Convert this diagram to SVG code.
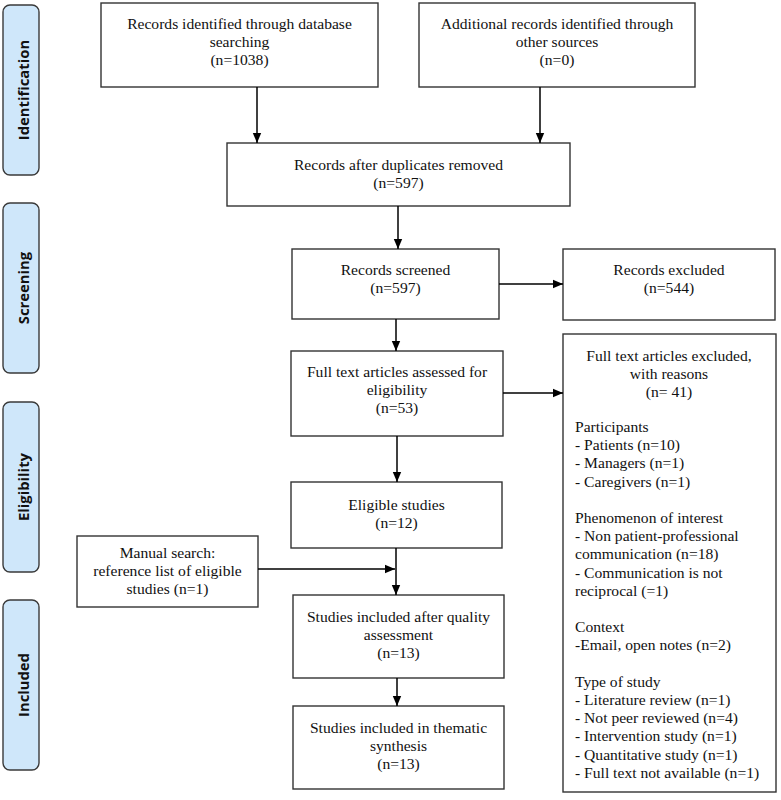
<svg xmlns="http://www.w3.org/2000/svg" width="781" height="800" viewBox="0 0 781 800">
<defs>
<marker id="ah" markerUnits="userSpaceOnUse" markerWidth="10" markerHeight="10" viewBox="0 0 10 10" refX="10" refY="5" orient="auto">
<path d="M0,0.8 L10,5 L0,9.2 Z" fill="#000"/>
</marker>
<style>
.box{fill:#fff;stroke:#333;stroke-width:1.4}
.phase{fill:#cfe7fa;stroke:#3a3a3a;stroke-width:1.4}
.pt{font-family:"Open Sans","Noto Sans","DejaVu Sans",sans-serif;font-weight:bold;font-size:14.8px;fill:#111;text-anchor:middle}
.t{font-family:"Liberation Serif","Times New Roman",serif;font-size:15.6px;fill:#111;text-anchor:middle}
.tl{font-family:"Liberation Serif","Times New Roman",serif;font-size:15.6px;fill:#111}
.c{stroke:#000;stroke-width:1.5;fill:none;marker-end:url(#ah)}
</style>
</defs>
<rect width="781" height="800" fill="#fff"/>

<g id="phase-identification">
<rect class="phase" x="3" y="5" width="36" height="170" rx="7"/>
<text class="pt" transform="translate(24,90) rotate(-90)" dy="5.3">Identification</text>
</g>
<g id="phase-screening">
<rect class="phase" x="3" y="203" width="36" height="170" rx="7"/>
<text class="pt" transform="translate(24,288) rotate(-90)" dy="5.3">Screening</text>
</g>
<g id="phase-eligibility">
<rect class="phase" x="3" y="402" width="36" height="170" rx="7"/>
<text class="pt" transform="translate(24,487) rotate(-90)" dy="5.3">Eligibility</text>
</g>
<g id="phase-included">
<rect class="phase" x="3" y="600" width="36" height="170" rx="7"/>
<text class="pt" transform="translate(24,685) rotate(-90)" dy="5.3">Included</text>
</g>

<g id="n-database">
<rect class="box" x="101" y="3" width="277" height="84"/>
<text class="t" x="239.5" y="29">Records identified through database</text>
<text class="t" x="239.5" y="47">searching</text>
<text class="t" x="239.5" y="65">(n=1038)</text>
</g>
<g id="n-other">
<rect class="box" x="419" y="3" width="276" height="84"/>
<text class="t" x="557" y="29">Additional records identified through</text>
<text class="t" x="557" y="47">other sources</text>
<text class="t" x="557" y="65">(n=0)</text>
</g>
<g id="n-dedup">
<rect class="box" x="227" y="143" width="343" height="63"/>
<text class="t" x="398.5" y="170">Records after duplicates removed</text>
<text class="t" x="398.5" y="188">(n=597)</text>
</g>
<g id="n-screened">
<rect class="box" x="292" y="249" width="207" height="70"/>
<text class="t" x="395.5" y="275">Records screened</text>
<text class="t" x="395.5" y="293">(n=597)</text>
</g>
<g id="n-excluded">
<rect class="box" x="563" y="249" width="212" height="71"/>
<text class="t" x="669" y="275">Records excluded</text>
<text class="t" x="669" y="293">(n=544)</text>
</g>
<g id="n-fulltext">
<rect class="box" x="291" y="351" width="212" height="85"/>
<text class="t" x="397" y="377">Full text articles assessed for</text>
<text class="t" x="397" y="395">eligibility</text>
<text class="t" x="397" y="413">(n=53)</text>
</g>
<g id="n-ftexcluded">
<rect class="box" x="563" y="334" width="213" height="458"/>
<text class="t" x="669" y="361">Full text articles excluded,</text>
<text class="t" x="669" y="379">with reasons</text>
<text class="t" x="669" y="397">(n= 41)</text>
<text class="tl" x="575" y="432">Participants</text>
<text class="tl" x="575" y="450.2">- Patients (n=10)</text>
<text class="tl" x="575" y="468.4">- Managers (n=1)</text>
<text class="tl" x="575" y="486.6">- Caregivers (n=1)</text>
<text class="tl" x="575" y="523">Phenomenon of interest</text>
<text class="tl" x="575" y="541.2">- Non patient-professional</text>
<text class="tl" x="575" y="559.4">communication (n=18)</text>
<text class="tl" x="575" y="577.6">- Communication is not</text>
<text class="tl" x="575" y="595.8">reciprocal (=1)</text>
<text class="tl" x="575" y="632.2">Context</text>
<text class="tl" x="575" y="650.4">-Email, open notes (n=2)</text>
<text class="tl" x="575" y="686.8">Type of study</text>
<text class="tl" x="575" y="705">- Literature review (n=1)</text>
<text class="tl" x="575" y="723.2">- Not peer reviewed (n=4)</text>
<text class="tl" x="575" y="741.4">- Intervention study (n=1)</text>
<text class="tl" x="575" y="759.6">- Quantitative study (n=1)</text>
<text class="tl" x="575" y="777.8">- Full text not available (n=1)</text>
</g>
<g id="n-eligible">
<rect class="box" x="291" y="482" width="211" height="66"/>
<text class="t" x="396.5" y="510">Eligible studies</text>
<text class="t" x="396.5" y="528">(n=12)</text>
</g>
<g id="n-manual">
<rect class="box" x="77" y="536" width="181" height="71"/>
<text class="t" x="167.5" y="558">Manual search:</text>
<text class="t" x="167.5" y="576">reference list of eligible</text>
<text class="t" x="167.5" y="594">studies (n=1)</text>
</g>
<g id="n-quality">
<rect class="box" x="293" y="595" width="211" height="83"/>
<text class="t" x="398.5" y="622">Studies included after quality</text>
<text class="t" x="398.5" y="640">assessment</text>
<text class="t" x="398.5" y="658">(n=13)</text>
</g>
<g id="n-synthesis">
<rect class="box" x="293" y="706" width="211" height="83"/>
<text class="t" x="398.5" y="733">Studies included in thematic</text>
<text class="t" x="398.5" y="751">synthesis</text>
<text class="t" x="398.5" y="769">(n=13)</text>
</g>

<g id="connectors">
<line class="c" x1="257" y1="87" x2="257" y2="143"/>
<line class="c" x1="540" y1="87" x2="540" y2="143"/>
<line class="c" x1="398" y1="206" x2="398" y2="249"/>
<line class="c" x1="499" y1="284" x2="563" y2="284"/>
<line class="c" x1="396" y1="319" x2="396" y2="351"/>
<line class="c" x1="503" y1="393" x2="563" y2="393"/>
<line class="c" x1="397" y1="436" x2="397" y2="482"/>
<line class="c" x1="396" y1="548" x2="396" y2="595"/>
<line class="c" x1="258" y1="569" x2="395" y2="569"/>
<line class="c" x1="397" y1="678" x2="397" y2="706"/>
</g>
</svg>
